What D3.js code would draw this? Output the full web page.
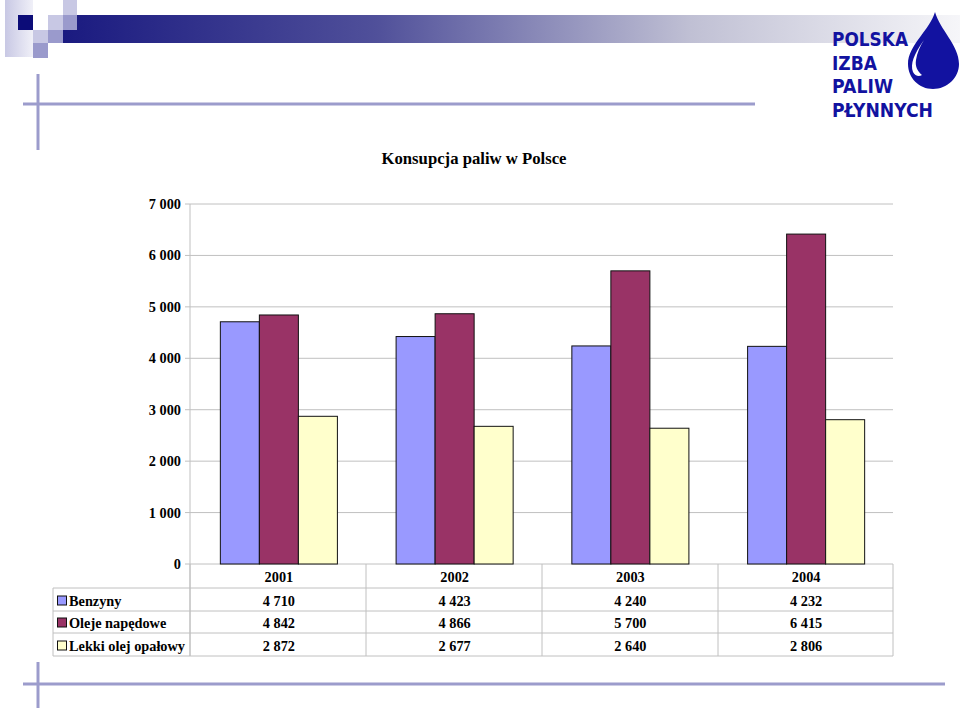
<!DOCTYPE html>
<html><head><meta charset="utf-8">
<script src="https://cdn.jsdelivr.net/npm/d3@7"></script>
<style>body{margin:0;background:#fff}svg{display:block}</style>
</head><body>
<script>
const years = ["2001","2002","2003","2004"];
const seriesNames = ["Benzyny","Oleje napędowe","Lekki olej opałowy"];
const benzyny = [4710,4423,4240,4232];
const oleje = [4842,4866,5700,6415];
const lekki = [2872,2677,2640,2806];
const seriesValues = [benzyny, oleje, lekki];
const colors = ["#9999ff","#993366","#ffffcc"];
const yTicks = [0,1000,2000,3000,4000,5000,6000,7000];
const title = "Konsupcja paliw w Polsce";

const W=960,H=708;
const svg=d3.select("body").append("svg").attr("width",W).attr("height",H);
const defs=svg.append("defs");
const fmt=v=>d3.format(",")(v).replace(/,/g," ");
const serif="Liberation Serif, Times New Roman, serif";

// decorative header
const g1=defs.append("linearGradient").attr("id","hdr").attr("x1",0).attr("x2",1);
g1.append("stop").attr("offset",0).attr("stop-color","#1a1a80");
g1.append("stop").attr("offset",0.35).attr("stop-color","#50509a");
g1.append("stop").attr("offset",0.7).attr("stop-color","#c0c0d4");
g1.append("stop").attr("offset",1).attr("stop-color","#f6f6f9");
const g2=defs.append("linearGradient").attr("id","lsq").attr("x1",0).attr("x2",1);
g2.append("stop").attr("offset",0).attr("stop-color","#c8c8e4");
g2.append("stop").attr("offset",1).attr("stop-color","#f0f0f8");
svg.append("rect").attr("x",63).attr("y",15).attr("width",W-63).attr("height",28).attr("fill","url(#hdr)");
svg.append("rect").attr("x",5).attr("y",0).attr("width",28).attr("height",57).attr("fill","url(#lsq)");
const sq=[[18,15,15,15,"#0c0c78"],[48,15,15,15,"#c8c8e4"],[63,0,14,15,"#c8c8e4"],[63,15,14,15,"#9a9acc"],
[33,30,15,13,"#c8c8e4"],[48,30,15,13,"#9a9acc"],[33,43,15,15,"#9a9acc"]];
svg.selectAll("rect.sq").data(sq).join("rect").attr("class","sq")
 .attr("x",d=>d[0]).attr("y",d=>d[1]).attr("width",d=>d[2]).attr("height",d=>d[3]).attr("fill",d=>d[4]);
const lc="#9c9ccc";
svg.append("line").attr("x1",38).attr("x2",38).attr("y1",74).attr("y2",150).attr("stroke",lc).attr("stroke-width",3);
svg.append("line").attr("x1",23).attr("x2",755).attr("y1",104).attr("y2",104).attr("stroke",lc).attr("stroke-width",3);
svg.append("line").attr("x1",38).attr("x2",38).attr("y1",662).attr("y2",708).attr("stroke",lc).attr("stroke-width",3);
svg.append("line").attr("x1",23).attr("x2",945).attr("y1",684).attr("y2",684).attr("stroke",lc).attr("stroke-width",3);

// logo
const logoC="#1212a0";
const logo=svg.append("g").attr("font-family","DejaVu Sans, Liberation Sans, sans-serif").attr("font-weight","bold").attr("fill",logoC).attr("font-size",20);
[["POLSKA",46,76],["IZBA",70,45],["PALIW",93,61],["PŁYNNYCH",117,101]].forEach(d=>{
 logo.append("text").attr("x",832).attr("y",d[1]).attr("textLength",d[2]).attr("lengthAdjust","spacingAndGlyphs").text(d[0]);
});
svg.append("path").attr("fill",logoC)
 .attr("d","M935,12 C930,30 908,45 908,64 C908,78 919,89 933,89 C947,89 959,78 959,64 C959,45 940,30 935,12 Z");
svg.append("path").attr("fill","#fff")
 .attr("d","M924,40 C914,54 910,64 913,72 C915,76 919,77 922,75 C917,71 915,66 916,60 C917,53 920,46 924,40 Z");

// chart
const x0=d3.scaleBand().domain(years).range([191,894]).paddingInner(0.334).paddingOuter(0.167);
const x1=d3.scaleBand().domain(d3.range(3)).range([0,x0.bandwidth()]);
const y=d3.scaleLinear().domain([0,7000]).range([564,204]);
const grid="#c0c0c0";
svg.append("g").selectAll("line").data(yTicks).join("line")
 .attr("x1",185).attr("x2",893).attr("y1",d=>y(d)).attr("y2",d=>y(d)).attr("stroke",grid);
svg.append("line").attr("x1",190).attr("x2",190).attr("y1",y(7000)).attr("y2",656).attr("stroke",grid);
svg.append("g").selectAll("text").data(yTicks).join("text")
 .attr("x",181).attr("y",d=>y(d)+5).attr("text-anchor","end")
 .attr("font-family",serif).attr("font-weight","bold").attr("font-size",14.3)
 .text(fmt);
svg.append("text").attr("x",474).attr("y",163.5).attr("text-anchor","middle")
 .attr("font-family",serif).attr("font-weight","bold").attr("font-size",16.7).text(title);

const gg=svg.append("g").selectAll("g").data(years).join("g").attr("transform",d=>`translate(${x0(d)},0)`);
gg.selectAll("rect").data((d,i)=>seriesValues.map((s,k)=>({k,v:s[i]}))).join("rect")
 .attr("x",d=>x1(d.k)).attr("width",x1.bandwidth()).attr("y",d=>y(d.v)).attr("height",d=>y(0)-y(d.v))
 .attr("fill",d=>colors[d.k]).attr("stroke","#111").attr("stroke-width",1);

// data table
const colEdges=[190,366,542,718,893];
const rowYs=[588,611,633,656];
const T=svg.append("g").attr("stroke",grid);
rowYs.forEach(yy=>T.append("line").attr("x1",53).attr("x2",893).attr("y1",yy).attr("y2",yy));
T.append("line").attr("x1",53).attr("x2",53).attr("y1",588).attr("y2",656);
colEdges.forEach(xx=>T.append("line").attr("x1",xx).attr("x2",xx).attr("y1",564).attr("y2",656));
const tf=svg.append("g").attr("font-family",serif).attr("font-weight","bold").attr("font-size",14.3);
years.forEach(yr=>tf.append("text").attr("x",x0(yr)+x0.bandwidth()/2).attr("y",582).attr("text-anchor","middle").text(yr));
seriesNames.forEach((nm,k)=>{
 const yy=rowYs[k+1]-5.5;
 svg.append("rect").attr("x",57.5).attr("y",yy-9.5).attr("width",9).attr("height",9).attr("fill",colors[k]).attr("stroke","#111");
 tf.append("text").attr("x",69).attr("y",yy).text(nm);
 years.forEach((yr,i)=>tf.append("text").attr("x",x0(yr)+x0.bandwidth()/2).attr("y",yy).attr("text-anchor","middle").text(fmt(seriesValues[k][i])));
});
</script>
</body></html>
